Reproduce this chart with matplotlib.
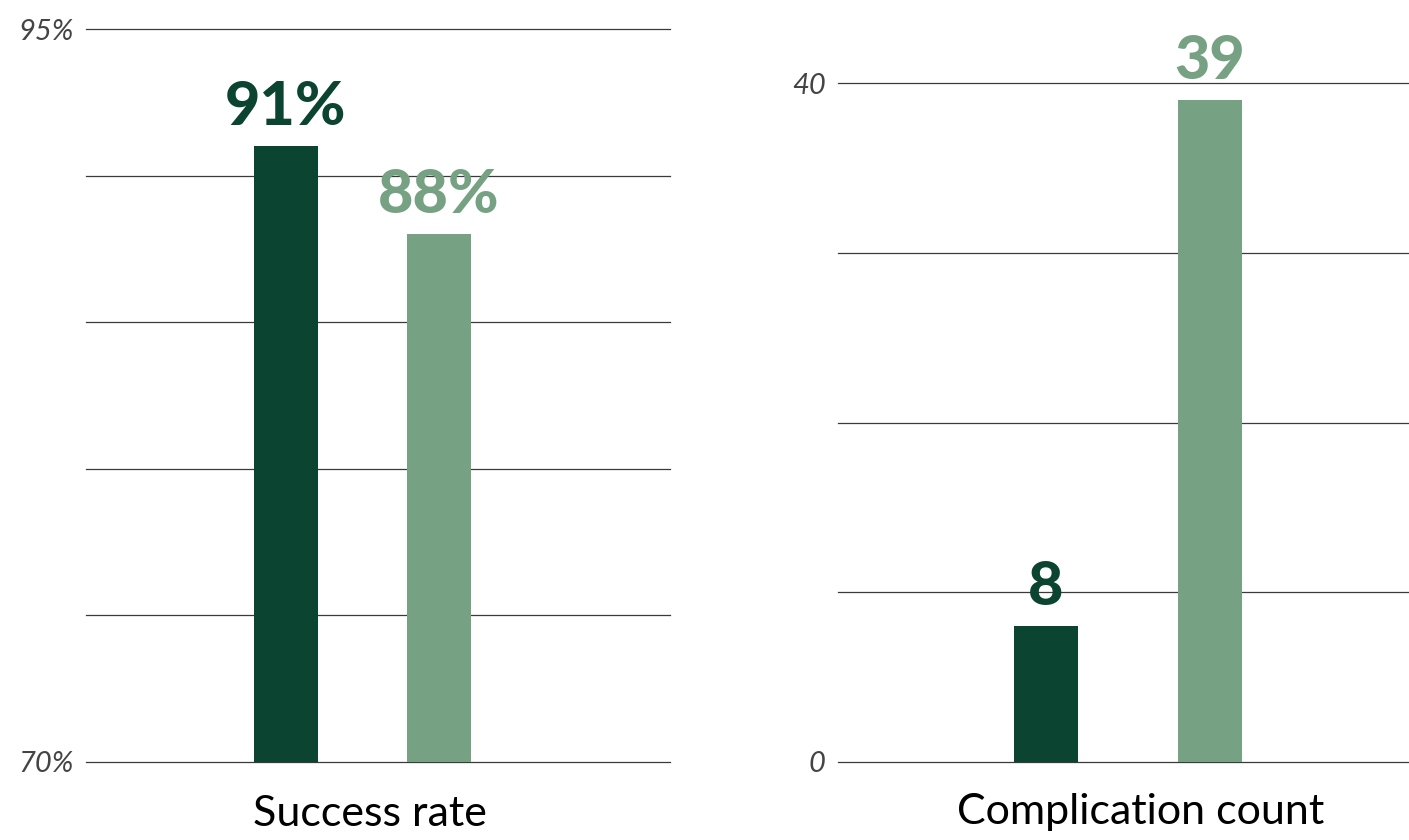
#!/usr/bin/env python3
import matplotlib
matplotlib.use('Agg')
import matplotlib.pyplot as plt

# values
groups = ['A', 'B']
success_rate = [91, 88]
complications = [8, 39]
panel_titles = ['Success rate', 'Complication count']

dark = '#0b4430'
light = '#76a283'
colors = [dark, light]
grid_c = '#3a3a3a'
tick_c = '#444444'

plt.rcParams['font.family'] = ['Lato', 'DejaVu Sans']

fig = plt.figure(figsize=(14.09, 8.4), dpi=100)
W, H = 1409, 840


def px_axes(x0, x1, y0, y1):
    # pixel box -> figure fraction
    return fig.add_axes([x0 / W, 1 - y1 / H, (x1 - x0) / W, (y1 - y0) / H])


def panel(ax, vals, ylim, step, fmt, xlim, width, title, title_x):
    ax.set_xlim(*xlim)
    ax.set_ylim(*ylim)
    ticks = list(range(ylim[0], ylim[1] + 1, step))
    for t in ticks:
        ax.axhline(t, color=grid_c, lw=0.9, zorder=1, clip_on=False)
    x = list(range(len(vals)))
    ax.bar(x, [v - ylim[0] for v in vals], bottom=ylim[0], width=width,
           color=colors, zorder=2)
    for xi, v, c in zip(x, vals, colors):
        ax.annotate(fmt.format(v), (xi, v), xytext=(0, 8), textcoords='offset points',
                    ha='center', va='bottom', fontsize=44, fontweight=900,
                    color=c, clip_on=False, zorder=3)
    ax.set_yticks(ticks)
    labels = [fmt.format(t) if t in (ylim[0], ylim[1]) else '' for t in ticks]
    ax.set_yticklabels(labels, fontsize=21, fontstyle='italic', color=tick_c)
    ax.tick_params(axis='y', length=0, pad=9)
    ax.set_xticks([])
    for s in ax.spines.values():
        s.set_visible(False)
    ax.text(title_x, -0.045, title, transform=ax.get_xaxis_transform(),
            ha='center', va='top', fontsize=31, color='black')


ax1 = px_axes(86, 670, 29, 762)
panel(ax1, success_rate, (70, 95), 5, '{}%', (-1.307, 2.51), 0.42,
      panel_titles[0], 0.55)

ax2 = px_axes(838, 1409, 83, 762)
panel(ax2, complications, (0, 40), 10, '{}', (-1.268, 2.214), 0.39,
      panel_titles[1], 0.58)

fig.savefig('out.png', dpi=100)
